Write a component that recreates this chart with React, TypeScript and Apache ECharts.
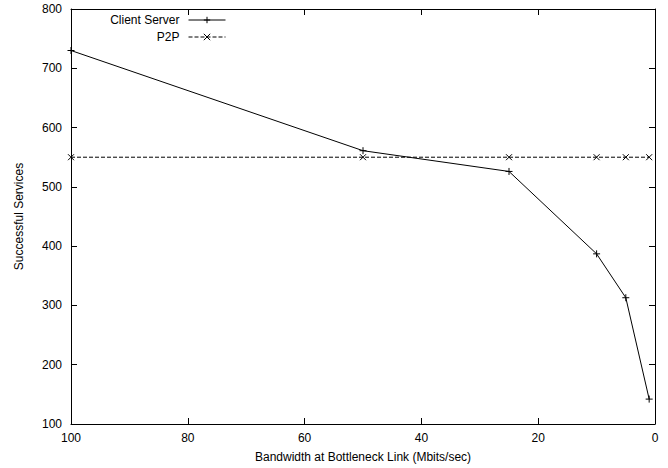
import React, { useEffect, useRef } from "react";
import * as echarts from "echarts";

const bandwidth = [100, 50, 25, 10, 5, 1];
const clientServer = [730, 561, 526, 387, 313, 142];
const p2p = [550, 550, 550, 550, 550, 550];

const PLUS = "path://M0,5L10,5M5,0L5,10";
const CROSS = "path://M0,0L10,10M10,0L0,10";
const FONT = "Liberation Sans, Arial, Helvetica, sans-serif";

export default function App() {
  const ref = useRef<HTMLDivElement>(null);
  useEffect(() => {
    const chart = echarts.init(ref.current!, null, { renderer: "svg" });
    const axisCommon = {
      axisLine: { show: true, onZero: false, lineStyle: { color: "#000", width: 1 } },
      axisTick: { show: true, inside: true, length: 6, lineStyle: { color: "#000" } },
      splitLine: { show: false },
    };
    chart.setOption({
      animation: false,
      backgroundColor: "#fff",
      textStyle: { fontFamily: FONT },
      grid: { left: 71, right: 13, top: 9, bottom: 44 },
      legend: {
        orient: "vertical",
        align: "right",
        right: 442,
        top: 14,
        padding: 0,
        itemWidth: 37,
        itemHeight: 8,
        itemGap: 5,
        itemStyle: { borderWidth: 1 },
        lineStyle: { width: 1 },
        textStyle: { fontFamily: FONT, fontSize: 12, color: "#000", padding: [0, 4, 0, 0] },
        data: ["Client Server", "P2P"],
      },
      xAxis: [
        {
          type: "value",
          min: 0,
          max: 100,
          interval: 20,
          inverse: true,
          position: "bottom",
          name: "Bandwidth at Bottleneck Link (Mbits/sec)",
          nameLocation: "middle",
          nameGap: 27,
          nameTextStyle: { fontSize: 12, color: "#000", fontFamily: FONT },
          axisLabel: { color: "#000", fontSize: 12, margin: 8, fontFamily: FONT },
          ...axisCommon,
        },
        {
          type: "value",
          min: 0,
          max: 100,
          interval: 20,
          inverse: true,
          position: "top",
          axisLabel: { show: false },
          ...axisCommon,
        },
      ],
      yAxis: [
        {
          type: "value",
          min: 100,
          max: 800,
          interval: 100,
          position: "left",
          name: "Successful Services",
          nameLocation: "middle",
          nameGap: 46,
          nameTextStyle: { fontSize: 12, color: "#000", fontFamily: FONT },
          axisLabel: { color: "#000", fontSize: 12, margin: 9, fontFamily: FONT },
          ...axisCommon,
        },
        {
          type: "value",
          min: 100,
          max: 800,
          interval: 100,
          position: "right",
          axisLabel: { show: false },
          ...axisCommon,
        },
      ],
      series: [
        {
          name: "Client Server",
          type: "line",
          data: bandwidth.map((b, i) => [b, clientServer[i]]),
          symbol: PLUS,
          symbolSize: 7,
          showSymbol: true,
          itemStyle: { color: "none", borderColor: "#000", borderWidth: 1 },
          lineStyle: { color: "#000", width: 1 },
        },
        {
          name: "P2P",
          type: "line",
          data: bandwidth.map((b, i) => [b, p2p[i]]),
          symbol: CROSS,
          symbolSize: 6,
          showSymbol: true,
          itemStyle: { color: "none", borderColor: "#000", borderWidth: 1 },
          lineStyle: { color: "#000", width: 1, type: [4, 2] },
        },
      ],
    });
    return () => chart.dispose();
  }, []);
  return (
    <div
      ref={ref}
      style={{ position: "fixed", left: 0, top: 0, width: 668, height: 468 }}
    />
  );
}
